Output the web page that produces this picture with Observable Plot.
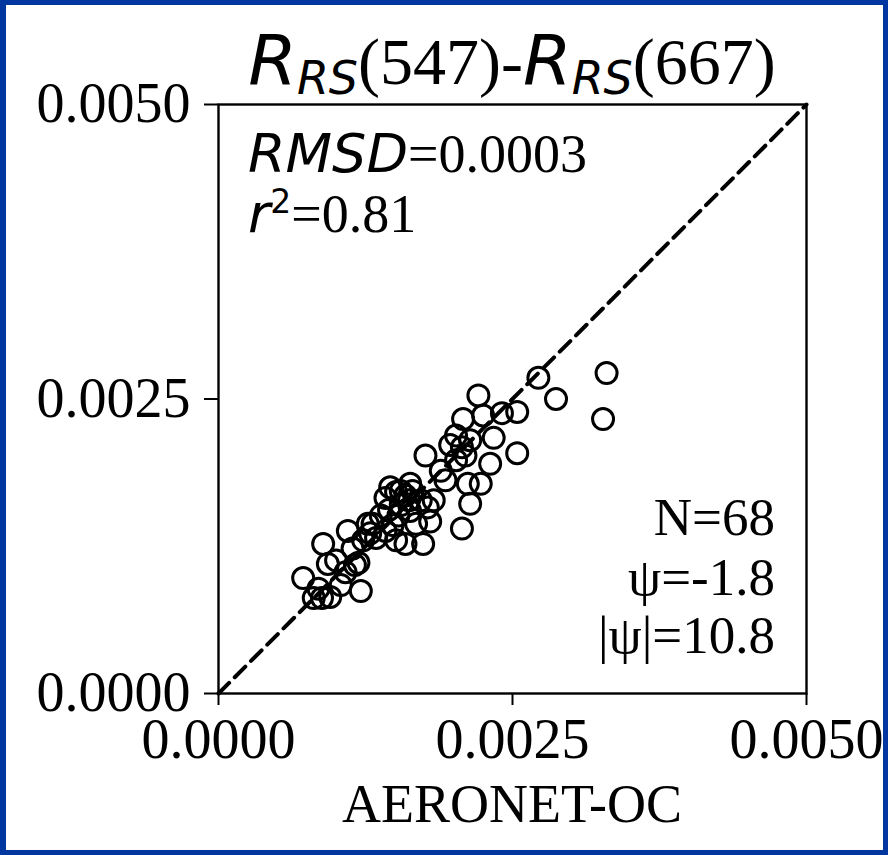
<!DOCTYPE html>
<html>
<head>
<meta charset="utf-8">
<script src="https://cdn.jsdelivr.net/npm/d3@7"></script>
<script src="https://cdn.jsdelivr.net/npm/@observablehq/plot@0.6"></script>
<style>
  html, body { margin: 0; padding: 0; }
  body { width: 888px; height: 855px; background: #0036a0; position: relative; overflow: hidden; }
  #inner { position: absolute; left: 6px; top: 5px; right: 5px; bottom: 5px; background: #fff; }
  #chart { position: absolute; left: 0; top: 0; }
</style>
</head>
<body>
<div id="inner"></div>
<div id="chart"></div>
<script>
// ---- data ----
const aeronet = [
  0.00072, 0.00081, 0.00088, 0.00095, 0.00085, 0.00104, 0.00121, 0.00089, 0.00093, 0.00119,
  0.00110, 0.00114, 0.00123, 0.00108, 0.00127, 0.00134, 0.00142, 0.00151, 0.00159, 0.00174,
  0.00142, 0.00151, 0.00155, 0.00163, 0.00159, 0.00153, 0.00163, 0.00172, 0.00178, 0.00168,
  0.00148, 0.00189, 0.00176, 0.00193, 0.00202, 0.00207, 0.00210, 0.00208, 0.00212, 0.00223,
  0.00214, 0.00207, 0.00231, 0.00234, 0.00225, 0.00221, 0.00241, 0.00254, 0.00254, 0.00272,
  0.00287, 0.00330, 0.00327, 0.00202, 0.00214, 0.00197, 0.00180, 0.00138, 0.00131, 0.00145,
  0.00155, 0.00162, 0.00165, 0.00100, 0.00116, 0.00129, 0.00183, 0.00146
];
const satellite = [
  0.00098, 0.00081, 0.00081, 0.00082, 0.00089, 0.00092, 0.00087, 0.00127, 0.00110, 0.00111,
  0.00138, 0.00123, 0.00130, 0.00103, 0.00144, 0.00132, 0.00138, 0.00130, 0.00127, 0.00127,
  0.00166, 0.00171, 0.00160, 0.00178, 0.00168, 0.00151, 0.00155, 0.00164, 0.00158, 0.00144,
  0.00143, 0.00189, 0.00202, 0.00181, 0.00219, 0.00209, 0.00202, 0.00233, 0.00178, 0.00178,
  0.00161, 0.00140, 0.00195, 0.00217, 0.00236, 0.00253, 0.00238, 0.00239, 0.00204, 0.00268,
  0.00250, 0.00272, 0.00233, 0.00198, 0.00215, 0.00211, 0.00146, 0.00151, 0.00144, 0.00156,
  0.00172, 0.00164, 0.00172, 0.00113, 0.00109, 0.00136, 0.00164, 0.00175
];
const axisDomain = [0, 0.005];
const tickValues = [0, 0.0025, 0.005];
const xLabel = "AERONET-OC";
const stats = { rmsd: "0.0003", r2: "0.81", n: "68", psi: "-1.8", absPsi: "10.8" };

const points = aeronet.map((x, i) => ({ x, y: satellite[i] }));
const diagonal = axisDomain.map(v => ({ x: v, y: v }));

const serif = "'Liberation Serif', 'Times New Roman', serif";
const sans = "'DejaVu Sans', sans-serif";

const fmt = d3.format(".4f");
const chart = Plot.plot({
  width: 888,
  height: 855,
  marginLeft: 218,
  marginRight: 82,
  marginTop: 104,
  marginBottom: 162,
  style: { background: "transparent", fontFamily: serif, color: "black", overflow: "visible" },
  x: { domain: axisDomain, label: null },
  y: { domain: axisDomain, label: null },
  marks: [
    Plot.line(diagonal, { x: "x", y: "y", stroke: "black", strokeWidth: 4, strokeDasharray: "15,8" }),
    Plot.dot(points, { x: "x", y: "y", r: 10.5, stroke: "black", strokeWidth: 3, fill: "none" }),
    Plot.frame({ stroke: "black", strokeWidth: 2.4 }),
    Plot.axisX({ ticks: tickValues, tickFormat: fmt, tickSize: 12, tickPadding: 13, fontSize: 56, strokeWidth: 2, label: null }),
    Plot.axisY({ ticks: tickValues, tickFormat: fmt, tickSize: 14, tickPadding: 14, fontSize: 56, strokeWidth: 2, label: null })
  ]
});
document.getElementById("chart").appendChild(chart);

const svg = d3.select(chart);

function addText(x, y, anchor, parts) {
  const t = svg.append("text")
    .attr("transform", `translate(${x},${y})`)
    .attr("text-anchor", anchor)
    .attr("fill", "black");
  parts.forEach(p => {
    const s = t.append("tspan").text(p.text)
      .attr("font-family", p.sans ? sans : serif)
      .attr("font-size", p.size);
    if (p.italic) s.attr("font-style", "italic");
    if (p.dy) s.attr("dy", p.dy);
  });
  return t;
}

// title  R_RS(547)-R_RS(667)
addText(512, 84, "middle", [
  { text: "R", sans: true, italic: true, size: 70 },
  { text: "RS", sans: true, italic: true, size: 46, dy: 10 },
  { text: "(547)-", size: 66, dy: -10 },
  { text: "R", sans: true, italic: true, size: 70 },
  { text: "RS", sans: true, italic: true, size: 46, dy: 10 },
  { text: "(667)", size: 66, dy: -10 }
]);

// statistics, upper left
addText(248, 172, "start", [
  { text: "RMSD", sans: true, italic: true, size: 54 },
  { text: "=" + stats.rmsd, size: 54 }
]);
addText(248, 232, "start", [
  { text: "r", sans: true, italic: true, size: 54 },
  { text: "2", sans: true, size: 33, dy: -19 },
  { text: "=" + stats.r2, size: 54, dy: 19 }
]);

// statistics, lower right
addText(775, 535, "end", [{ text: "N=" + stats.n, size: 53 }]);
addText(775, 595, "end", [{ text: "\u03c8=" + stats.psi, size: 53 }]);
addText(775, 653, "end", [{ text: "|\u03c8|=" + stats.absPsi, size: 53 }]);

// x-axis title
addText(512, 822, "middle", [{ text: xLabel, size: 54 }]);
</script>
</body>
</html>
